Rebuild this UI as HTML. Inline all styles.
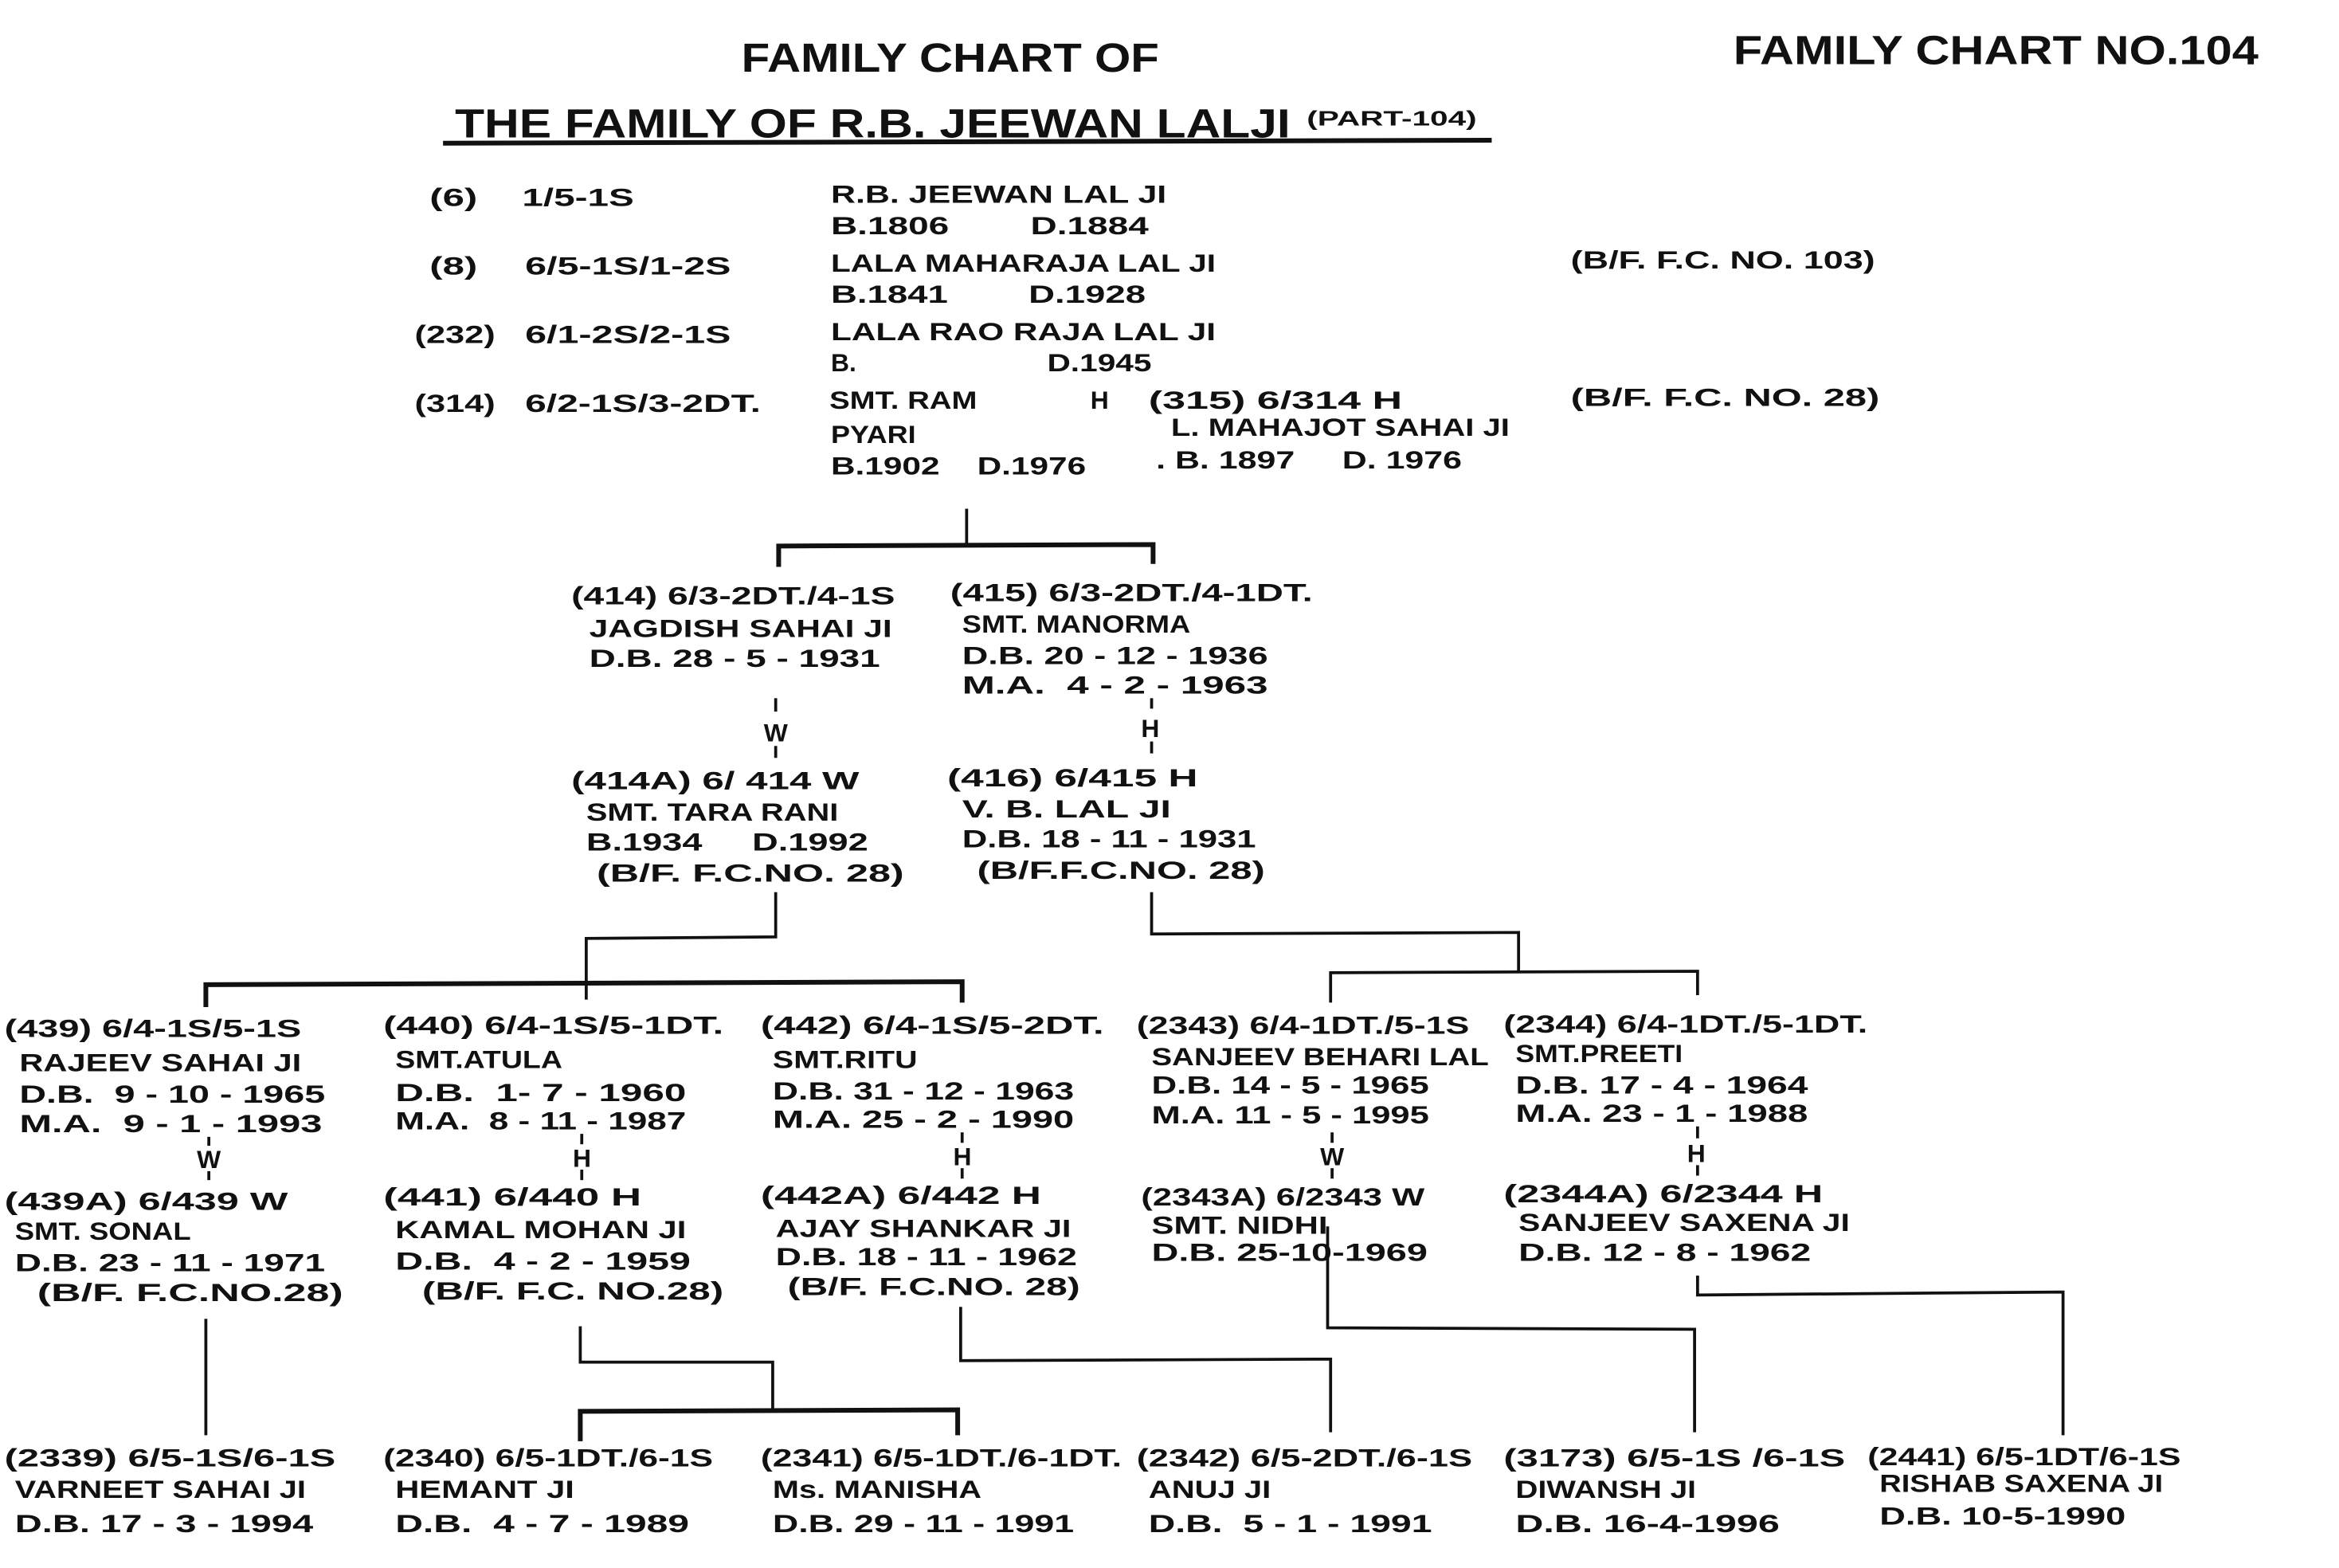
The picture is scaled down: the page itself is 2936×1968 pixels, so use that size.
<!DOCTYPE html>
<html><head><meta charset="utf-8"><style>
html,body{margin:0;padding:0;background:#fff;}
svg{display:block}
text{font-family:"Liberation Sans",sans-serif;font-weight:bold;fill:#111;font-size:17px;white-space:pre}
.t{font-size:27px}
.s{font-size:14px}
line,polyline{stroke:#111;fill:none;stroke-width:2}
.k{stroke-width:3.2}
</style></head><body>
<svg xml:space="preserve" width="2936" height="1968" viewBox="0 0 1568 1051" preserveAspectRatio="none" xmlns="http://www.w3.org/2000/svg">
<text class="t" x="497" y="48" textLength="280" lengthAdjust="spacingAndGlyphs">FAMILY CHART OF</text>
<text class="t" x="305" y="92" textLength="560" lengthAdjust="spacingAndGlyphs">THE FAMILY OF R.B. JEEWAN LALJI</text>
<text class="s" x="876" y="84" textLength="114" lengthAdjust="spacingAndGlyphs">(PART-104)</text>
<line class="k" x1="297" y1="96" x2="1000" y2="94"/>
<text class="t" x="1162" y="43" textLength="352" lengthAdjust="spacingAndGlyphs">FAMILY CHART NO.104</text>

<text x="288" y="138" textLength="32" lengthAdjust="spacingAndGlyphs">(6)</text>
<text x="350" y="138" textLength="75" lengthAdjust="spacingAndGlyphs">1/5-1S</text>
<text x="557" y="136" textLength="225" lengthAdjust="spacingAndGlyphs">R.B. JEEWAN LAL JI</text>
<text x="557" y="157" textLength="213" lengthAdjust="spacingAndGlyphs">B.1806        D.1884</text>
<text x="288" y="184" textLength="32" lengthAdjust="spacingAndGlyphs">(8)</text>
<text x="352" y="184" textLength="138" lengthAdjust="spacingAndGlyphs">6/5-1S/1-2S</text>
<text x="557" y="182" textLength="258" lengthAdjust="spacingAndGlyphs">LALA MAHARAJA LAL JI</text>
<text x="557" y="203" textLength="211" lengthAdjust="spacingAndGlyphs">B.1841        D.1928</text>
<text x="1053" y="180" textLength="204" lengthAdjust="spacingAndGlyphs">(B/F. F.C. NO. 103)</text>
<text x="278" y="230" textLength="54" lengthAdjust="spacingAndGlyphs">(232)</text>
<text x="352" y="230" textLength="138" lengthAdjust="spacingAndGlyphs">6/1-2S/2-1S</text>
<text x="557" y="228" textLength="258" lengthAdjust="spacingAndGlyphs">LALA RAO RAJA LAL JI</text>
<text x="557" y="249">B.</text>
<text x="702" y="249" textLength="70" lengthAdjust="spacingAndGlyphs">D.1945</text>
<text x="278" y="276" textLength="54" lengthAdjust="spacingAndGlyphs">(314)</text>
<text x="352" y="276" textLength="158" lengthAdjust="spacingAndGlyphs">6/2-1S/3-2DT.</text>
<text x="556" y="274" textLength="99" lengthAdjust="spacingAndGlyphs">SMT. RAM</text>
<text x="731" y="274">H</text>
<text x="770" y="274" textLength="170" lengthAdjust="spacingAndGlyphs">(315) 6/314 H</text>
<text x="1053" y="272" textLength="207" lengthAdjust="spacingAndGlyphs">(B/F. F.C. NO. 28)</text>
<text x="557" y="297" textLength="57" lengthAdjust="spacingAndGlyphs">PYARI</text>
<text x="785" y="292" textLength="227" lengthAdjust="spacingAndGlyphs">L. MAHAJOT SAHAI JI</text>
<text x="557" y="318" textLength="171" lengthAdjust="spacingAndGlyphs">B.1902    D.1976</text>
<text x="775" y="314" textLength="205" lengthAdjust="spacingAndGlyphs">. B. 1897     D. 1976</text>

<line x1="648" y1="341" x2="648" y2="366"/>
<polyline class="k" points="522,380 522,366 773,365 773,378"/>

<text x="383" y="405" textLength="217" lengthAdjust="spacingAndGlyphs">(414) 6/3-2DT./4-1S</text>
<text x="395" y="427" textLength="203" lengthAdjust="spacingAndGlyphs">JAGDISH SAHAI JI</text>
<text x="395" y="447" textLength="195" lengthAdjust="spacingAndGlyphs">D.B. 28 - 5 - 1931</text>
<text x="637" y="403" textLength="243" lengthAdjust="spacingAndGlyphs">(415) 6/3-2DT./4-1DT.</text>
<text x="645" y="424" textLength="153" lengthAdjust="spacingAndGlyphs">SMT. MANORMA</text>
<text x="645" y="445" textLength="205" lengthAdjust="spacingAndGlyphs">D.B. 20 - 12 - 1936</text>
<text x="645" y="465" textLength="205" lengthAdjust="spacingAndGlyphs">M.A.  4 - 2 - 1963</text>
<line x1="520" y1="468" x2="520" y2="477"/><text x="512" y="497">W</text><line x1="520" y1="500" x2="520" y2="508"/>
<line x1="772" y1="468" x2="772" y2="475"/><text x="765" y="494">H</text><line x1="772" y1="497" x2="772" y2="505"/>
<text x="383" y="529" textLength="193" lengthAdjust="spacingAndGlyphs">(414A) 6/ 414 W</text>
<text x="393" y="550" textLength="169" lengthAdjust="spacingAndGlyphs">SMT. TARA RANI</text>
<text x="393" y="570" textLength="189" lengthAdjust="spacingAndGlyphs">B.1934     D.1992</text>
<text x="400" y="591" textLength="206" lengthAdjust="spacingAndGlyphs">(B/F. F.C.NO. 28)</text>
<text x="635" y="527" textLength="168" lengthAdjust="spacingAndGlyphs">(416) 6/415 H</text>
<text x="645" y="548" textLength="140" lengthAdjust="spacingAndGlyphs">V. B. LAL JI</text>
<text x="645" y="568" textLength="197" lengthAdjust="spacingAndGlyphs">D.B. 18 - 11 - 1931</text>
<text x="655" y="589" textLength="193" lengthAdjust="spacingAndGlyphs">(B/F.F.C.NO. 28)</text>

<polyline points="520,598 520,628 393,629 393,670"/>
<polyline class="k" points="138,675 138,660 645,658 645,672"/>
<polyline points="772,598 772,626 1018,625 1018,651"/>
<polyline points="892,672 892,652 1138,651 1138,667"/>

<text x="3" y="695" textLength="199" lengthAdjust="spacingAndGlyphs">(439) 6/4-1S/5-1S</text>
<text x="13" y="718" textLength="189" lengthAdjust="spacingAndGlyphs">RAJEEV SAHAI JI</text>
<text x="13" y="739" textLength="205" lengthAdjust="spacingAndGlyphs">D.B.  9 - 10 - 1965</text>
<text x="13" y="759" textLength="203" lengthAdjust="spacingAndGlyphs">M.A.  9 - 1 - 1993</text>
<line x1="140" y1="762" x2="140" y2="768"/><text x="132" y="783">W</text><line x1="140" y1="785" x2="140" y2="791"/>
<text x="3" y="811" textLength="190" lengthAdjust="spacingAndGlyphs">(439A) 6/439 W</text>
<text x="10" y="831" textLength="118" lengthAdjust="spacingAndGlyphs">SMT. SONAL</text>
<text x="10" y="852" textLength="208" lengthAdjust="spacingAndGlyphs">D.B. 23 - 11 - 1971</text>
<text x="25" y="872" textLength="205" lengthAdjust="spacingAndGlyphs">(B/F. F.C.NO.28)</text>

<text x="257" y="693" textLength="228" lengthAdjust="spacingAndGlyphs">(440) 6/4-1S/5-1DT.</text>
<text x="265" y="716" textLength="112" lengthAdjust="spacingAndGlyphs">SMT.ATULA</text>
<text x="265" y="738" textLength="195" lengthAdjust="spacingAndGlyphs">D.B.  1- 7 - 1960</text>
<text x="265" y="757" textLength="195" lengthAdjust="spacingAndGlyphs">M.A.  8 - 11 - 1987</text>
<line x1="390" y1="760" x2="390" y2="767"/><text x="384" y="782">H</text><line x1="390" y1="784" x2="390" y2="791"/>
<text x="257" y="808" textLength="173" lengthAdjust="spacingAndGlyphs">(441) 6/440 H</text>
<text x="265" y="830" textLength="195" lengthAdjust="spacingAndGlyphs">KAMAL MOHAN JI</text>
<text x="265" y="851" textLength="198" lengthAdjust="spacingAndGlyphs">D.B.  4 - 2 - 1959</text>
<text x="283" y="871" textLength="202" lengthAdjust="spacingAndGlyphs">(B/F. F.C. NO.28)</text>

<text x="510" y="693" textLength="230" lengthAdjust="spacingAndGlyphs">(442) 6/4-1S/5-2DT.</text>
<text x="518" y="716" textLength="97" lengthAdjust="spacingAndGlyphs">SMT.RITU</text>
<text x="518" y="737" textLength="202" lengthAdjust="spacingAndGlyphs">D.B. 31 - 12 - 1963</text>
<text x="518" y="756" textLength="202" lengthAdjust="spacingAndGlyphs">M.A. 25 - 2 - 1990</text>
<line x1="645" y1="759" x2="645" y2="766"/><text x="639" y="781">H</text><line x1="645" y1="783" x2="645" y2="790"/>
<text x="510" y="807" textLength="188" lengthAdjust="spacingAndGlyphs">(442A) 6/442 H</text>
<text x="520" y="829" textLength="198" lengthAdjust="spacingAndGlyphs">AJAY SHANKAR JI</text>
<text x="520" y="848" textLength="202" lengthAdjust="spacingAndGlyphs">D.B. 18 - 11 - 1962</text>
<text x="528" y="868" textLength="196" lengthAdjust="spacingAndGlyphs">(B/F. F.C.NO. 28)</text>

<text x="762" y="693" textLength="223" lengthAdjust="spacingAndGlyphs">(2343) 6/4-1DT./5-1S</text>
<text x="772" y="714" textLength="226" lengthAdjust="spacingAndGlyphs">SANJEEV BEHARI LAL</text>
<text x="772" y="733" textLength="186" lengthAdjust="spacingAndGlyphs">D.B. 14 - 5 - 1965</text>
<text x="772" y="753" textLength="186" lengthAdjust="spacingAndGlyphs">M.A. 11 - 5 - 1995</text>
<line x1="893" y1="759" x2="893" y2="766"/><text x="885" y="781">W</text><line x1="893" y1="783" x2="893" y2="790"/>
<text x="765" y="808" textLength="190" lengthAdjust="spacingAndGlyphs">(2343A) 6/2343 W</text>
<text x="772" y="827" textLength="118" lengthAdjust="spacingAndGlyphs">SMT. NIDHI</text>
<text x="772" y="845" textLength="185" lengthAdjust="spacingAndGlyphs">D.B. 25-10-1969</text>

<text x="1008" y="692" textLength="244" lengthAdjust="spacingAndGlyphs">(2344) 6/4-1DT./5-1DT.</text>
<text x="1016" y="712" textLength="112" lengthAdjust="spacingAndGlyphs">SMT.PREETI</text>
<text x="1016" y="733" textLength="196" lengthAdjust="spacingAndGlyphs">D.B. 17 - 4 - 1964</text>
<text x="1016" y="752" textLength="196" lengthAdjust="spacingAndGlyphs">M.A. 23 - 1 - 1988</text>
<line x1="1138" y1="755" x2="1138" y2="763"/><text x="1131" y="779">H</text><line x1="1138" y1="781" x2="1138" y2="788"/>
<text x="1008" y="806" textLength="214" lengthAdjust="spacingAndGlyphs">(2344A) 6/2344 H</text>
<text x="1018" y="825" textLength="222" lengthAdjust="spacingAndGlyphs">SANJEEV SAXENA JI</text>
<text x="1018" y="845" textLength="196" lengthAdjust="spacingAndGlyphs">D.B. 12 - 8 - 1962</text>

<line x1="138" y1="884" x2="138" y2="962"/>
<polyline points="389,889 389,913 518,913 518,945"/>
<polyline class="k" points="389,966 389,946 642,945 642,962"/>
<polyline points="644,876 644,912 892,911 892,960"/>
<polyline points="890,822 890,890 1136,891 1136,960"/>
<polyline points="1138,855 1138,868 1383,866 1383,962"/>

<text x="3" y="983" textLength="222" lengthAdjust="spacingAndGlyphs">(2339) 6/5-1S/6-1S</text>
<text x="10" y="1004" textLength="195" lengthAdjust="spacingAndGlyphs">VARNEET SAHAI JI</text>
<text x="10" y="1027" textLength="200" lengthAdjust="spacingAndGlyphs">D.B. 17 - 3 - 1994</text>
<text x="257" y="983" textLength="221" lengthAdjust="spacingAndGlyphs">(2340) 6/5-1DT./6-1S</text>
<text x="265" y="1004" textLength="120" lengthAdjust="spacingAndGlyphs">HEMANT JI</text>
<text x="265" y="1027" textLength="197" lengthAdjust="spacingAndGlyphs">D.B.  4 - 7 - 1989</text>
<text x="510" y="983" textLength="242" lengthAdjust="spacingAndGlyphs">(2341) 6/5-1DT./6-1DT.</text>
<text x="518" y="1004" textLength="140" lengthAdjust="spacingAndGlyphs">Ms. MANISHA</text>
<text x="518" y="1027" textLength="202" lengthAdjust="spacingAndGlyphs">D.B. 29 - 11 - 1991</text>
<text x="762" y="983" textLength="225" lengthAdjust="spacingAndGlyphs">(2342) 6/5-2DT./6-1S</text>
<text x="770" y="1004" textLength="82" lengthAdjust="spacingAndGlyphs">ANUJ JI</text>
<text x="770" y="1027" textLength="190" lengthAdjust="spacingAndGlyphs">D.B.  5 - 1 - 1991</text>
<text x="1008" y="983" textLength="229" lengthAdjust="spacingAndGlyphs">(3173) 6/5-1S /6-1S</text>
<text x="1016" y="1004" textLength="121" lengthAdjust="spacingAndGlyphs">DIWANSH JI</text>
<text x="1016" y="1027" textLength="177" lengthAdjust="spacingAndGlyphs">D.B. 16-4-1996</text>
<text x="1252" y="982" textLength="210" lengthAdjust="spacingAndGlyphs">(2441) 6/5-1DT/6-1S</text>
<text x="1260" y="1000" textLength="190" lengthAdjust="spacingAndGlyphs">RISHAB SAXENA JI</text>
<text x="1260" y="1022" textLength="165" lengthAdjust="spacingAndGlyphs">D.B. 10-5-1990</text>
</svg>
</body></html>
